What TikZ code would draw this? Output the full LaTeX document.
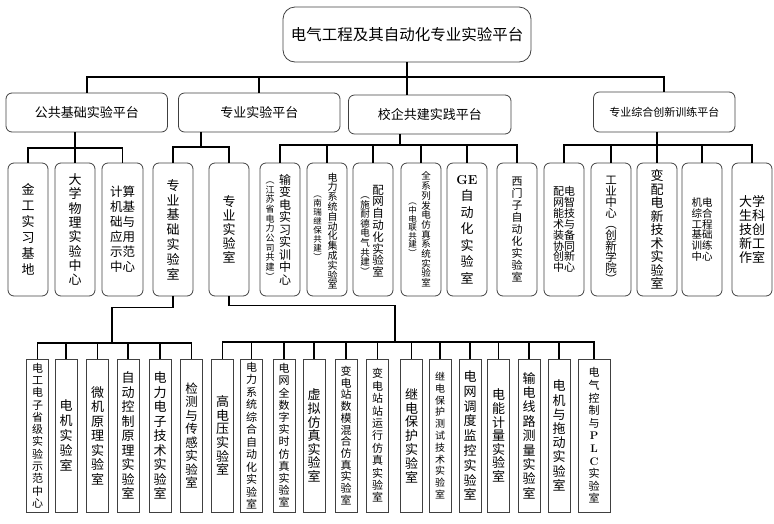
\documentclass[tikz,border=0pt]{standalone}
\usepackage{fontspec}
\newfontfamily\cjk{Noto Sans CJK SC}
\usepackage{tikz}

\newcommand{\fz}[2]{\cjk\fontsize{#1}{#2}\selectfont\lineskiplimit=-20pt\relax}

\begin{document}
\begin{tikzpicture}[
    x=1pt, y=-1pt,
    top/.style={draw=black!75, line width=0.8pt, rounded corners=12pt, minimum width=248pt, minimum height=55pt, inner sep=0pt, font=\fz{15.5}{18}},
    plat/.style={draw=black!75, line width=0.8pt, rounded corners=6pt, minimum height=39pt, inner sep=0pt},
    room/.style={draw=black!75, line width=0.8pt, rounded corners=6pt, minimum width=40pt, minimum height=133pt, inner sep=0pt, align=center},
    lab/.style={draw=black!75, line width=0.8pt, minimum width=22pt, minimum height=153pt, inner sep=0pt, align=center},
    vt/.style={inner sep=0pt, align=center},
    conn/.style={line width=1.8pt}
  ]
    \useasboundingbox (0,0) rectangle (774,523);

    % top and platforms
    \node[top] (root) at (407,34.5) {电气工程及其自动化专业实验平台};
    \node[plat, minimum width=161.5pt, font=\fz{13}{15}] (gg) at (86.75,112.5) {公共基础实验平台};
    \node[plat, minimum width=161.5pt, font=\fz{13}{15}] (zy) at (259.25,112.5) {专业实验平台};
    \node[plat, minimum width=162.5pt, font=\fz{13}{15}] (xq) at (429.75,114.5) {校企共建实践平台};
    \node[plat, minimum width=141.5pt, minimum height=40pt, font=\fz{11}{13}] (zh) at (664.25,112) {专业综合创新训练平台};

    % third level
    \node[room, font=\fz{13}{16}] (jg) at (28,229.5) {金\\工\\实\\习\\基\\地};
    \node[room, font=\fz{13}{14.3}] (dx) at (75,229.5) {大\\学\\物\\理\\实\\验\\中\\心};
    \node[room, minimum width=41pt, font=\fz{12.5}{15}] (js) at (122.5,229.5) {计算\\机基\\础与\\应用\\示范\\中心};
    \node[room, font=\fz{13}{14.8}] (jc) at (173,229.5) {专\\业\\基\\础\\实\\验\\室};
    \node[room, font=\fz{13}{14}] (zs) at (229,229.5) {专\\业\\实\\验\\室};

    \node[room] (sx) at (280,229.5) {};
    \node[vt, font=\fz{12}{12.5}] (sxa) at (285,229.5) {输\\变\\电\\实\\习\\实\\训\\中\\心};
    \node[vt, font=\fz{9}{9.7}] (sxb) at (270,231) {︵\\江\\苏\\省\\电\\力\\公\\司\\共\\建\\︶};
    \node[room] (nr) at (327,229.5) {};
    \node[vt, font=\fz{10}{9.8}] (nra) at (332.5,231) {电\\力\\系\\统\\自\\动\\化\\集\\成\\实\\验\\室};
    \node[vt, font=\fz{8.5}{9}] (nrb) at (317.5,228) {︵\\南\\瑞\\继\\保\\共\\建\\︶};
    \node[room] (pw) at (373,229.5) {};
    \node[vt, font=\fz{11.5}{11.8}] (pwa) at (378,231) {配\\网\\自\\动\\化\\实\\验\\室};
    \node[vt, font=\fz{9.5}{9.6}] (pwb) at (365,236) {︵\\施\\耐\\德\\电\\气\\共\\建\\︶};
    \node[room] (fd) at (421,229.5) {};
    \node[vt, font=\fz{9.5}{9.7}] (fda) at (426,229.5) {全\\系\\列\\发\\电\\仿\\真\\系\\统\\实\\验\\室};
    \node[vt, font=\fz{8.5}{8.6}] (fdb) at (412.5,230) {︵\\中\\电\\联\\共\\建\\︶};
    \node[room, font=\fz{13}{16.5}] (ge) at (467,229.5) {{\normalfont\bfseries GE}\\自\\动\\化\\实\\验\\室};
    \node[room, font=\fz{11}{11.9}] (xm) at (517,229.5) {西\\门\\子\\自\\动\\化\\实\\验\\室};

    \node[room, font=\fz{11}{10.9}] (zn) at (564,229.5) {配电\\网智\\能技\\术与\\装备\\协同\\创新\\中心};
    \node[room, font=\fz{11.5}{11}] (gy) at (611,229.5) {工\\业\\中\\心\\︵\\创\\新\\学\\院\\︶};
    \node[room, font=\fz{13}{13.5}] (bp) at (657,229.5) {变\\配\\电\\新\\技\\术\\实\\验\\室};
    \node[room, font=\fz{10.5}{10.8}] (jd) at (702,229.5) {机电\\综合\\工程\\基础\\训练\\中心};
    \node[room, font=\fz{13}{14}] (dc) at (752,229.5) {大学\\生科\\技创\\新工\\作室};

    % labs under the basic lab
    \node[lab, font=\fz{11}{12.3}] (a1) at (37.5,435.5) {电\\工\\电\\子\\省\\级\\实\\验\\示\\范\\中\\心};
    \node[lab, font=\fz{13}{15}] (a2) at (66,435.5) {电\\机\\实\\验\\室};
    \node[lab, font=\fz{13}{14.5}] (a3) at (97.5,435.5) {微\\机\\原\\理\\实\\验\\室};
    \node[lab, font=\fz{13}{14.5}] (a4) at (128,435.5) {自\\动\\控\\制\\原\\理\\实\\验\\室};
    \node[lab, font=\fz{13}{14.5}] (a5) at (160,435.5) {电\\力\\电\\子\\技\\术\\实\\验\\室};
    \node[lab, font=\fz{12.5}{13.5}] (a6) at (191.5,435.5) {检\\测\\与\\传\\感\\实\\验\\室};

    % labs under the special lab
    \node[lab, font=\fz{13}{13.6}] (b1) at (222.5,435.5) {高\\电\\压\\实\\验\\室};
    \node[lab, font=\fz{11}{12.5}] (b2) at (251.5,435.5) {电\\力\\系\\统\\综\\合\\自\\动\\化\\实\\验\\室};
    \node[lab, font=\fz{11}{12.2}] (b3) at (284,435.5) {电\\网\\全\\数\\字\\实\\时\\仿\\真\\实\\验\\室};
    \node[lab, font=\fz{13}{13.6}] (b4) at (314,435.5) {虚\\拟\\仿\\真\\实\\验\\室};
    \node[lab, font=\fz{11}{11.7}] (b5) at (346,435.5) {变\\电\\站\\数\\模\\混\\合\\仿\\真\\实\\验\\室};
    \node[lab, font=\fz{11}{12.4}] (b6) at (377.5,435.5) {变\\电\\站\\站\\运\\行\\仿\\真\\实\\验\\室};
    \node[lab, font=\fz{13}{13.8}] (b7) at (411.5,435.5) {继\\电\\保\\护\\实\\验\\室};
    \node[lab, font=\fz{10}{11.8}] (b8) at (440,435.5) {继\\电\\保\\护\\测\\试\\技\\术\\实\\验\\室};
    \node[lab, font=\fz{13}{14.8}] (b9) at (470,435.5) {电\\网\\调\\度\\监\\控\\实\\验\\室};
    \node[lab, font=\fz{13}{13.6}] (b10) at (498.5,435.5) {电\\能\\计\\量\\实\\验\\室};
    \node[lab, font=\fz{13}{14.4}] (b11) at (529,435.5) {输\\电\\线\\路\\测\\量\\实\\验\\室};
    \node[lab, font=\fz{13}{14.2}] (b12) at (559,435.5) {电\\机\\与\\拖\\动\\实\\验\\室};
    \node[lab, minimum width=32pt, font=\fz{11}{12.6}] (b13) at (594,435.5) {电\\气\\控\\制\\与\\{\normalfont\bfseries P}\\{\normalfont\bfseries L}\\{\normalfont\bfseries C}\\实\\验\\室};

    % connectors
    \coordinate (j1) at (407,77);
    \draw[conn] (root.south) -- (j1 |- xq.north);
    \foreach \n in {gg,zy,zh} \draw[conn] (j1) -| (\n.north);

    \coordinate (j2) at (75,148);
    \draw[conn] (j2 |- gg.south) -- (dx.north);
    \foreach \n in {jg,js} \draw[conn] (j2) -| (\n.north);

    \coordinate (j3) at (201,147);
    \draw[conn] (j3 |- zy.south) -- (j3);
    \foreach \n in {jc,zs} \draw[conn] (j3) -| (\n.north);

    \coordinate (j4) at (400,145);
    \draw[conn] (j4 |- xq.south) -- (j4);
    \foreach \n in {sx,nr,pw,fd,ge,xm} \draw[conn] (j4) -| (\n.north);

    \coordinate (j5) at (657,145);
    \draw[conn] (j5 |- zh.south) -- (bp.north);
    \foreach \n in {zn,gy,jd,dc} \draw[conn] (j5) -| (\n.north);

    \coordinate (j6) at (112,343);
    \draw[conn] (jc.south) -- ++(0,11) -| (j6);
    \foreach \i in {1,...,6} \draw[conn] (j6) -| (a\i.north);

    \coordinate (j7) at (395,342);
    \draw[conn] (zs.south) -- ++(0,9) -| (j7);
    \foreach \i in {1,...,13} \draw[conn] (j7) -| (b\i.north);
\end{tikzpicture}
\end{document}
